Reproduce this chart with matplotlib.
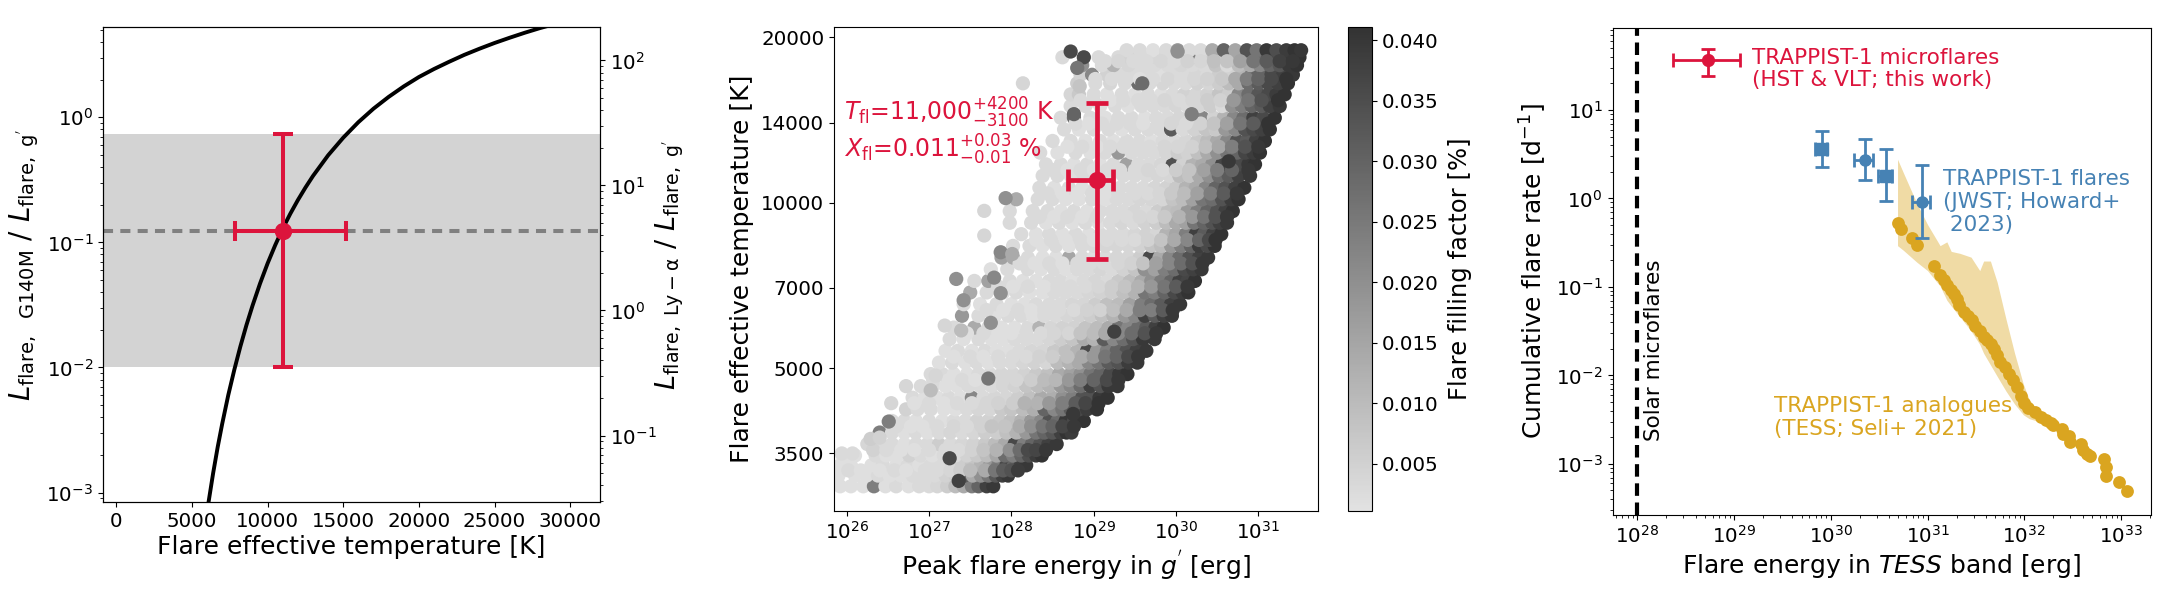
import numpy as np
import matplotlib
matplotlib.use('Agg')
import matplotlib.pyplot as plt
from matplotlib.colors import LinearSegmentedColormap
from matplotlib.ticker import NullLocator, NullFormatter

W, H = 2161, 602
RED = 'crimson'
BLUE = 'steelblue'
GOLD = 'goldenrod'

# left panel: luminosity ratio curve (log10 of the ratio)
curve_T = [6100, 6400, 6700, 7000, 7400, 7800, 8200, 8600, 9000, 9500, 10000, 10500, 11000, 11500, 12000, 12500, 13000,
           14000, 15000, 16000, 17000, 18000, 19000, 20000, 21000, 22000, 23000, 24000, 25000, 26000, 27000, 28000, 29000]
curve_logL = [-3.074, -2.845, -2.637, -2.45, -2.221, -2.018, -1.832, -1.662, -1.507, -1.329, -1.168, -1.023, -0.89, -0.771,
              -0.662, -0.562, -0.469, -0.304, -0.163, -0.039, 0.069, 0.163, 0.247, 0.322, 0.386, 0.444, 0.499, 0.548,
              0.594, 0.636, 0.676, 0.713, 0.746]
ratio_mid = 0.123
ratio_low = 0.01
ratio_high = 0.73
temp_mid = 11000
temp_low = 7860
temp_high = 15200

# middle panel: simulated flares, one row per temperature. log10 energy and filling factor in 1e-3 %
row_T = [3050, 3190, 3330, 3470, 3640, 3820, 4010, 4210, 4420, 4640, 4880, 5120, 5380, 5650, 5930, 6230, 6540,
         6870, 7210, 7570, 7950, 8350, 8770, 9200, 9660, 10150, 10650, 11200, 11750, 12340, 12960, 13600, 14280,
         15000, 15750, 16500, 17100, 17800, 18400, 18950,
         3260, 3550, 3920, 4320, 4760, 5250, 5790, 6380, 7040, 7760, 8560, 9430, 10400, 11470, 12650, 13940, 15370,
         16800, 18100]
row_logE = [
    [25.92, 26.05, 26.2, 26.33, 26.47, 26.6, 26.75, 26.88, 27.0, 27.1, 27.22, 27.32, 27.42, 27.52, 27.6, 27.7, 27.78],
    [25.9, 26.1, 26.24, 26.38, 26.52, 26.66, 26.8, 26.94, 27.07, 27.2, 27.32, 27.43, 27.53, 27.63, 27.72, 27.81, 27.89, 27.96],
    [25.92, 26.05, 26.3, 26.44, 26.6, 26.74, 26.88, 27.02, 27.15, 27.28, 27.4, 27.52, 27.63, 27.74, 27.84, 27.94, 28.03, 28.11, 28.18],
    [25.95, 26.1, 26.35, 26.48, 26.62, 26.76, 26.9, 27.04, 27.18, 27.32, 27.46, 27.58, 27.7, 27.82, 27.92, 28.02, 28.12, 28.21, 28.3, 28.37],
    [26.25, 26.4, 26.55, 26.7, 26.84, 26.98, 27.12, 27.26, 27.4, 27.54, 27.68, 27.8, 27.92, 28.04, 28.15, 28.25, 28.35, 28.45, 28.55],
    [26.4, 26.55, 26.7, 26.84, 26.98, 27.12, 27.26, 27.4, 27.54, 27.68, 27.82, 27.94, 28.06, 28.18, 28.3, 28.4, 28.5, 28.6, 28.67, 28.73],
    [26.55, 26.7, 26.84, 27.0, 27.16, 27.3, 27.44, 27.58, 27.72, 27.86, 27.99, 28.12, 28.24, 28.36, 28.46, 28.56, 28.66, 28.76, 28.88],
    [26.72, 26.86, 27.02, 27.18, 27.32, 27.46, 27.6, 27.74, 27.88, 28.0, 28.14, 28.27, 28.4, 28.52, 28.62, 28.72, 28.82, 28.92, 29.04],
    [26.8, 26.95, 27.1, 27.24, 27.38, 27.52, 27.66, 27.8, 27.94, 28.08, 28.22, 28.36, 28.5, 28.62, 28.74, 28.86, 28.96, 29.07, 29.17],
    [26.9, 27.05, 27.2, 27.34, 27.48, 27.62, 27.76, 27.9, 28.04, 28.18, 28.32, 28.46, 28.6, 28.72, 28.84, 28.96, 29.08, 29.18, 29.29],
    [27.02, 27.16, 27.3, 27.46, 27.6, 27.74, 27.88, 28.02, 28.16, 28.3, 28.44, 28.58, 28.72, 28.84, 28.96, 29.08, 29.2, 29.31, 29.41],
    [27.12, 27.28, 27.44, 27.58, 27.72, 27.86, 28.0, 28.14, 28.28, 28.42, 28.56, 28.7, 28.82, 28.94, 29.06, 29.18, 29.3, 29.42, 29.53],
    [27.2, 27.35, 27.52, 27.68, 27.82, 27.96, 28.1, 28.24, 28.38, 28.52, 28.66, 28.8, 28.92, 29.04, 29.16, 29.28, 29.4, 29.52, 29.64],
    [27.25, 27.42, 27.6, 27.76, 27.9, 28.04, 28.18, 28.32, 28.46, 28.6, 28.74, 28.88, 29.0, 29.12, 29.24, 29.36, 29.48, 29.6, 29.74],
    [27.3, 27.55, 27.72, 27.88, 28.04, 28.2, 28.34, 28.48, 28.62, 28.76, 28.9, 29.04, 29.18, 29.3, 29.42, 29.54, 29.64, 29.75, 29.85],
    [27.4, 27.6, 27.8, 27.96, 28.12, 28.26, 28.4, 28.54, 28.68, 28.82, 28.96, 29.1, 29.24, 29.38, 29.5, 29.62, 29.74, 29.85, 29.95],
    [27.42, 27.62, 27.82, 28.0, 28.16, 28.3, 28.46, 28.6, 28.74, 28.88, 29.02, 29.16, 29.3, 29.44, 29.58, 29.7, 29.82, 29.94, 30.05],
    [27.5, 27.7, 27.9, 28.06, 28.22, 28.38, 28.52, 28.66, 28.8, 28.94, 29.08, 29.22, 29.36, 29.5, 29.62, 29.74, 29.86, 29.98, 30.08, 30.15],
    [27.55, 27.72, 27.98, 28.14, 28.3, 28.46, 28.6, 28.74, 28.88, 29.02, 29.16, 29.3, 29.44, 29.58, 29.7, 29.82, 29.94, 30.04, 30.14, 30.23],
    [27.75, 27.95, 28.2, 28.36, 28.52, 28.66, 28.8, 28.94, 29.08, 29.22, 29.36, 29.5, 29.62, 29.74, 29.86, 29.98, 30.1, 30.21, 30.31],
    [27.88, 28.02, 28.2, 28.38, 28.54, 28.7, 28.86, 29.0, 29.14, 29.28, 29.42, 29.56, 29.68, 29.8, 29.92, 30.04, 30.16, 30.28, 30.39],
    [28.02, 28.22, 28.38, 28.54, 28.7, 28.86, 29.0, 29.14, 29.28, 29.42, 29.56, 29.7, 29.82, 29.94, 30.06, 30.18, 30.28, 30.38, 30.47],
    [28.12, 28.3, 28.46, 28.62, 28.78, 28.94, 29.08, 29.22, 29.36, 29.5, 29.64, 29.76, 29.88, 30.0, 30.12, 30.24, 30.34, 30.45, 30.55],
    [27.98, 28.24, 28.42, 28.58, 28.74, 28.9, 29.06, 29.2, 29.34, 29.48, 29.62, 29.76, 29.88, 30.0, 30.12, 30.22, 30.34, 30.44, 30.53, 30.62],
    [27.98, 28.26, 28.44, 28.6, 28.76, 28.92, 29.08, 29.22, 29.36, 29.5, 29.64, 29.78, 29.9, 30.02, 30.14, 30.26, 30.38, 30.5, 30.6, 30.69],
    [28.06, 28.32, 28.5, 28.66, 28.82, 28.98, 29.14, 29.28, 29.42, 29.56, 29.7, 29.84, 29.96, 30.08, 30.2, 30.32, 30.44, 30.56, 30.67, 30.76],
    [28.34, 28.52, 28.7, 28.86, 29.02, 29.18, 29.32, 29.46, 29.6, 29.74, 29.88, 30.0, 30.12, 30.24, 30.36, 30.48, 30.6, 30.72, 30.83],
    [28.38, 28.56, 28.72, 28.88, 29.04, 29.2, 29.36, 29.5, 29.64, 29.78, 29.92, 30.04, 30.16, 30.28, 30.4, 30.52, 30.64, 30.76, 30.9],
    [28.42, 28.6, 28.76, 28.92, 29.08, 29.24, 29.4, 29.54, 29.68, 29.82, 29.96, 30.08, 30.2, 30.32, 30.44, 30.56, 30.68, 30.78, 30.88, 30.96],
    [28.35, 28.56, 28.78, 28.96, 29.14, 29.3, 29.46, 29.6, 29.74, 29.88, 30.02, 30.14, 30.26, 30.38, 30.5, 30.62, 30.74, 30.84, 30.94, 31.02],
    [28.5, 28.72, 28.9, 29.08, 29.24, 29.4, 29.56, 29.7, 29.84, 29.98, 30.12, 30.26, 30.38, 30.5, 30.62, 30.74, 30.86, 30.97, 31.08],
    [28.64, 28.82, 29.0, 29.18, 29.34, 29.5, 29.66, 29.8, 29.94, 30.08, 30.22, 30.36, 30.48, 30.6, 30.72, 30.84, 30.94, 31.04, 31.14],
    [28.6, 28.76, 28.96, 29.14, 29.3, 29.46, 29.62, 29.76, 29.9, 30.04, 30.18, 30.32, 30.46, 30.58, 30.7, 30.82, 30.94, 31.06, 31.2],
    [28.72, 28.9, 29.08, 29.26, 29.42, 29.58, 29.72, 29.86, 30.0, 30.14, 30.28, 30.42, 30.56, 30.68, 30.8, 30.92, 31.04, 31.14, 31.26],
    [28.72, 28.82, 29.0, 29.16, 29.34, 29.5, 29.66, 29.82, 29.96, 30.1, 30.24, 30.38, 30.52, 30.64, 30.76, 30.88, 31.0, 31.12, 31.22, 31.32],
    [28.8, 29.02, 29.2, 29.38, 29.54, 29.68, 29.84, 29.98, 30.12, 30.26, 30.4, 30.52, 30.64, 30.76, 30.88, 31.0, 31.12, 31.24, 31.36],
    [28.84, 28.98, 29.16, 29.32, 29.48, 29.64, 29.8, 29.96, 30.1, 30.24, 30.38, 30.52, 30.66, 30.8, 30.92, 31.04, 31.16, 31.3, 31.42],
    [28.86, 29.1, 29.24, 29.42, 29.58, 29.74, 29.9, 30.06, 30.2, 30.34, 30.48, 30.62, 30.76, 30.9, 31.02, 31.14, 31.26, 31.37, 31.47],
    [28.62, 28.88, 29.06, 29.3, 29.44, 29.6, 29.76, 29.9, 30.04, 30.18, 30.32, 30.46, 30.6, 30.74, 30.88, 31.0, 31.12, 31.24, 31.36, 31.5],
    [29.4, 29.56, 29.72, 29.88, 30.02, 30.16, 30.3, 30.44, 30.58, 30.72, 30.86, 30.98, 31.1, 31.22, 31.34, 31.44, 31.52],
    # in-between rows
    [26.02, 26.17, 26.4, 26.58, 26.72, 26.95, 27.1, 27.26, 27.38, 27.5, 27.68, 27.8, 27.9, 28.0, 28.08],
    [26.32, 26.48, 26.66, 26.82, 27.0, 27.2, 27.36, 27.52, 27.66, 27.82, 27.98, 28.1, 28.2, 28.3, 28.42],
    [26.6, 26.78, 26.92, 27.1, 27.3, 27.46, 27.64, 27.76, 27.92, 28.1, 28.24, 28.38, 28.5, 28.62, 28.76],
    [26.82, 27.0, 27.18, 27.34, 27.52, 27.7, 27.84, 28.02, 28.16, 28.32, 28.46, 28.62, 28.78, 28.9, 29.06],
    [27.05, 27.24, 27.4, 27.56, 27.72, 27.9, 28.06, 28.24, 28.4, 28.54, 28.7, 28.84, 29.0, 29.16, 29.3],
    [27.3, 27.5, 27.66, 27.84, 28.02, 28.18, 28.34, 28.5, 28.68, 28.86, 29.0, 29.14, 29.28, 29.42, 29.54],
    [27.46, 27.66, 27.84, 28.0, 28.18, 28.36, 28.52, 28.7, 28.84, 29.0, 29.14, 29.3, 29.46, 29.62, 29.76],
    [27.7, 27.9, 28.08, 28.24, 28.4, 28.58, 28.76, 28.92, 29.08, 29.24, 29.4, 29.56, 29.7, 29.84, 29.96],
    [27.84, 28.02, 28.2, 28.4, 28.56, 28.72, 28.9, 29.06, 29.22, 29.38, 29.54, 29.7, 29.86, 30.0, 30.14],
    [28.1, 28.28, 28.46, 28.62, 28.8, 28.96, 29.12, 29.3, 29.46, 29.6, 29.76, 29.92, 30.06, 30.2, 30.32],
    [28.3, 28.48, 28.66, 28.84, 29.0, 29.16, 29.34, 29.5, 29.66, 29.82, 29.98, 30.14, 30.28, 30.4, 30.48],
    [28.34, 28.52, 28.68, 28.86, 29.04, 29.24, 29.4, 29.56, 29.72, 29.86, 30.04, 30.2, 30.34, 30.48, 30.62],
    [28.44, 28.62, 28.8, 28.98, 29.14, 29.3, 29.5, 29.66, 29.8, 29.94, 30.1, 30.26, 30.42, 30.58, 30.74],
    [28.5, 28.68, 28.84, 29.0, 29.16, 29.32, 29.5, 29.66, 29.84, 30.0, 30.16, 30.34, 30.5, 30.68, 30.88],
    [28.68, 28.86, 29.04, 29.2, 29.36, 29.52, 29.68, 29.86, 30.02, 30.2, 30.36, 30.52, 30.68, 30.84, 31.0],
    [28.78, 28.94, 29.1, 29.28, 29.44, 29.6, 29.78, 29.94, 30.12, 30.3, 30.46, 30.62, 30.78, 30.94, 31.12],
    [28.84, 29.0, 29.2, 29.36, 29.54, 29.7, 29.86, 30.04, 30.2, 30.38, 30.54, 30.7, 30.88, 31.04, 31.24],
    [29.02, 29.22, 29.4, 29.56, 29.72, 29.9, 30.06, 30.22, 30.38, 30.56, 30.72, 30.86, 31.0, 31.16, 31.34],
    [29.14, 29.3, 29.48, 29.64, 29.82, 29.98, 30.14, 30.3, 30.46, 30.62, 30.78, 30.94, 31.1, 31.26, 31.42],
]
row_fill = [
    [2, 2, 2, 24, 2, 3, 2, 3, 3, 4, 6, 10, 14, 24, 30, 38, 40],
    [2, 2, 2, 3, 2, 2, 3, 3, 3, 5, 6, 32, 14, 20, 26, 33, 38, 40],
    [2, 2, 2, 3, 2, 3, 2, 3, 3, 4, 6, 8, 12, 18, 24, 36, 30, 38, 40],
    [2, 2, 3, 2, 2, 5, 3, 2, 3, 3, 5, 7, 10, 15, 28, 24, 30, 35, 39, 41],
    [4, 3, 3, 2, 3, 3, 6, 3, 4, 5, 7, 10, 14, 36, 24, 30, 34, 38, 40],
    [24, 3, 2, 3, 2, 3, 4, 3, 4, 6, 6, 9, 12, 18, 26, 30, 33, 38, 41, 39],
    [3, 3, 2, 3, 2, 3, 3, 5, 5, 7, 9, 12, 18, 22, 34, 28, 40, 36, 41],
    [5, 3, 3, 2, 2, 3, 4, 4, 7, 8, 10, 13, 30, 22, 26, 32, 36, 39, 41],
    [3, 2, 2, 3, 2, 22, 3, 4, 4, 6, 9, 14, 13, 20, 24, 34, 34, 40, 41],
    [3, 3, 2, 2, 3, 3, 3, 4, 5, 8, 10, 12, 18, 22, 28, 38, 34, 40, 40],
    [3, 3, 2, 2, 3, 3, 4, 4, 5, 7, 9, 14, 16, 20, 26, 30, 36, 40, 41],
    [2, 3, 2, 3, 2, 3, 3, 4, 5, 4, 10, 12, 14, 22, 26, 32, 34, 39, 40],
    [2, 3, 2, 3, 2, 2, 3, 4, 4, 7, 9, 12, 36, 18, 24, 30, 34, 38, 40],
    [3, 2, 3, 2, 2, 3, 3, 3, 4, 6, 8, 14, 12, 32, 22, 28, 34, 40, 40],
    [3, 14, 3, 2, 2, 3, 12, 4, 5, 5, 8, 10, 14, 26, 22, 28, 32, 38, 41],
    [18, 3, 2, 3, 3, 2, 3, 3, 4, 5, 6, 9, 12, 18, 22, 38, 32, 38, 40],
    [3, 2, 3, 2, 2, 3, 3, 3, 4, 4, 6, 9, 10, 16, 24, 28, 32, 38, 40],
    [14, 3, 2, 3, 2, 2, 3, 3, 3, 4, 5, 6, 9, 12, 26, 24, 30, 36, 39, 41],
    [3, 16, 3, 2, 2, 3, 3, 2, 3, 4, 3, 7, 10, 14, 20, 25, 30, 38, 37, 41],
    [2, 3, 3, 2, 3, 2, 3, 3, 4, 3, 5, 8, 20, 16, 24, 28, 36, 38, 40],
    [16, 14, 3, 2, 2, 15, 3, 2, 3, 4, 4, 6, 36, 14, 22, 28, 34, 38, 40],
    [3, 3, 2, 3, 2, 3, 3, 4, 4, 4, 5, 8, 10, 18, 24, 30, 39, 36, 41],
    [3, 2, 3, 2, 3, 2, 3, 3, 3, 4, 5, 4, 12, 15, 24, 38, 32, 38, 41],
    [3, 3, 2, 3, 2, 3, 2, 3, 4, 3, 5, 6, 10, 14, 16, 26, 30, 34, 38, 40],
    [3, 3, 3, 2, 3, 2, 3, 3, 3, 4, 3, 6, 9, 10, 18, 24, 30, 34, 38, 41],
    [14, 3, 3, 2, 2, 3, 2, 3, 3, 4, 4, 4, 8, 10, 16, 26, 28, 34, 39, 41],
    [3, 2, 3, 2, 3, 2, 3, 3, 3, 4, 5, 7, 12, 14, 22, 30, 34, 38, 41],
    [3, 3, 2, 3, 3, 2, 3, 3, 3, 4, 4, 10, 8, 14, 20, 28, 32, 38, 40],
    [3, 3, 2, 3, 2, 3, 16, 3, 3, 4, 34, 5, 12, 14, 20, 37, 30, 36, 40, 41],
    [3, 2, 3, 2, 3, 18, 3, 3, 3, 4, 6, 5, 9, 14, 20, 26, 30, 37, 39, 41],
    [3, 3, 2, 3, 2, 3, 3, 2, 3, 3, 4, 7, 10, 14, 22, 34, 32, 38, 41],
    [3, 2, 3, 3, 2, 3, 3, 3, 32, 3, 5, 8, 7, 18, 22, 34, 36, 38, 41],
    [3, 28, 3, 2, 3, 3, 2, 3, 3, 4, 3, 22, 5, 12, 22, 28, 38, 36, 41],
    [3, 3, 2, 3, 2, 3, 3, 3, 4, 3, 4, 6, 3, 20, 24, 30, 32, 38, 40],
    [4, 7, 3, 2, 3, 2, 3, 2, 3, 5, 4, 5, 8, 6, 22, 28, 33, 36, 39, 41],
    [6, 3, 4, 3, 28, 3, 4, 3, 3, 5, 4, 6, 10, 14, 28, 32, 36, 38, 41],
    [5, 22, 5, 3, 3, 3, 2, 3, 3, 4, 3, 6, 5, 12, 30, 30, 36, 38, 40],
    [20, 3, 12, 4, 3, 3, 3, 4, 3, 3, 8, 3, 10, 14, 22, 30, 33, 40, 41],
    [3, 36, 3, 3, 5, 3, 4, 3, 4, 24, 4, 8, 6, 14, 20, 28, 34, 36, 40, 41],
    [3, 3, 2, 3, 18, 3, 3, 14, 30, 15, 34, 26, 40, 35, 39, 41, 40],
    # in-between rows
    [3, 2, 2, 3, 2, 3, 3, 4, 6, 10, 14, 26, 32, 34, 39],
    [5, 3, 2, 2, 3, 3, 3, 5, 8, 12, 20, 28, 36, 37, 40],
    [3, 2, 2, 3, 4, 3, 5, 8, 8, 14, 20, 26, 30, 37, 40],
    [2, 3, 2, 3, 3, 4, 5, 6, 12, 12, 18, 24, 32, 37, 41],
    [3, 2, 3, 2, 3, 4, 4, 6, 10, 11, 18, 24, 30, 36, 40],
    [2, 3, 2, 3, 3, 3, 5, 6, 9, 14, 18, 26, 30, 36, 40],
    [2, 3, 2, 2, 3, 3, 4, 4, 8, 10, 14, 22, 28, 34, 40],
    [3, 2, 3, 2, 3, 3, 3, 5, 5, 9, 14, 24, 24, 32, 40],
    [3, 2, 3, 2, 3, 3, 3, 4, 6, 8, 12, 18, 26, 32, 40],
    [3, 2, 3, 2, 3, 3, 3, 4, 5, 8, 16, 22, 28, 34, 40],
    [2, 3, 2, 3, 2, 3, 3, 3, 5, 8, 14, 22, 30, 36, 41],
    [3, 2, 3, 2, 3, 3, 3, 4, 4, 7, 12, 18, 26, 34, 40],
    [3, 2, 2, 3, 2, 3, 3, 3, 4, 7, 10, 16, 24, 32, 40],
    [3, 2, 3, 2, 3, 3, 3, 4, 3, 6, 8, 16, 24, 30, 40],
    [2, 3, 2, 3, 3, 3, 3, 4, 4, 5, 9, 15, 24, 34, 40],
    [3, 2, 3, 3, 3, 2, 3, 4, 3, 5, 8, 16, 26, 32, 41],
    [3, 3, 2, 3, 3, 3, 4, 3, 4, 6, 5, 18, 26, 34, 41],
    [3, 3, 3, 2, 3, 4, 3, 4, 5, 7, 14, 24, 30, 36, 41],
    [3, 4, 3, 3, 4, 3, 5, 4, 9, 8, 16, 26, 32, 38, 40],
]
# single flares that stand out from the rows
stray_logE = [28.72, 28.80, 28.83, 28.14, 28.76, 27.93, 27.67, 27.67, 27.87, 28.01, 27.33, 27.79, 27.87, 27.42, 27.19,
              27.39, 27.75, 26.72, 27.08, 26.54, 26.51, 27.02, 25.94, 26.07, 26.29, 26.40, 27.25, 27.36, 27.72,
              30.64, 30.19, 29.59, 30.02, 28.75, 29.25]
stray_T = [18850, 17600, 16300, 16500, 14500, 10200, 9670, 8720, 8130, 8070, 7270, 7310, 6850, 6650, 5980,
           5860, 6050, 4640, 4850, 4320, 4000, 4560, 3500, 3500, 3720, 3740, 3430, 3120, 4790,
           11900, 14500, 16500, 18850, 4130, 5830]
stray_fill = [36, 26, 8, 4, 30, 20, 4, 4, 22, 14, 20, 22, 20, 20, 4,
              10, 20, 4, 4, 4, 24, 10, 3, 3, 6, 5, 36, 38, 26,
              40, 24, 28, 20, 40, 38]

peak_logE = 29.04
peak_logE_err = [28.69, 29.235]
peak_T = 11020
peak_T_err = [7900, 15200]

# right panel, everything in log10
micro_logE, micro_logE_err = 28.736, [28.373, 29.064]
micro_logR, micro_logR_err = 1.563, [1.381, 1.689]
jwst_logE = [29.908, 30.352, 30.567, 30.944]
jwst_logE_low = [29.84, 30.244, 30.491, 30.837]
jwst_logE_high = [29.966, 30.437, 30.63, 31.03]
jwst_logR = [0.556, 0.43, 0.256, -0.043]
jwst_logR_low = [0.36, 0.204, -0.026, -0.447]
jwst_logR_high = [0.76, 0.673, 0.56, 0.378]
jwst_marker = ['s', 'o', 's', 'o']
seli_logE = [30.69, 30.73, 30.84, 30.89, 31.07, 31.13, 31.17, 31.20, 31.24, 31.27, 31.30, 31.33, 31.38, 31.42, 31.46,
             31.49, 31.54, 31.58, 31.62, 31.66, 31.69, 31.72, 31.75, 31.80, 31.84, 31.88, 31.93, 31.97, 32.00, 32.04, 32.11,
             32.17, 32.22, 32.28, 32.30, 32.39, 32.40, 32.46, 32.47, 32.59, 32.61, 32.65, 32.68, 32.82, 32.84, 32.85,
             32.98, 33.06]
seli_logR = [-0.274, -0.343, -0.447, -0.526, -0.769, -0.864, -0.925, -0.977, -1.034, -1.077, -1.133, -1.207, -1.281, -1.33, -1.373,
             -1.438, -1.498, -1.564, -1.60, -1.642, -1.698, -1.772, -1.846, -1.902, -1.989, -2.054, -2.133, -2.228, -2.315, -2.367, -2.411,
             -2.467, -2.50, -2.533, -2.563, -2.611, -2.663, -2.684, -2.75, -2.78, -2.845, -2.893, -2.906, -2.945, -3.032, -3.141,
             -3.21, -3.305]
band_logE = [30.69, 30.75, 30.89, 31.00, 31.13, 31.20, 31.245, 31.335, 31.45, 31.54, 31.58, 31.65, 31.72, 31.81, 31.90,
             31.99, 32.05, 32.14, 32.255]
band_high = [0.443, 0.291, -0.056, -0.295, -0.534, -0.491, -0.599, -0.621, -0.664, -0.816, -0.708, -0.708, -0.947, -1.359, -1.75,
             -2.098, -2.271, -2.402, -2.554]
band_low = [-0.534, -0.586, -0.721, -0.816, -0.99, -1.151, -1.216, -1.338, -1.498, -1.65, -1.75, -1.881, -2.011, -2.176, -2.324,
            -2.445, -2.489, -2.519, -2.575]


def place(left, right, top, bottom):
    return fig.add_axes([left / W, 1 - bottom / H, (right - left) / W, (bottom - top) / H])


def asym(mid, lo, hi):
    return [[mid - lo], [hi - mid]]


plt.rcParams['font.size'] = 14.3
plt.rcParams['mathtext.default'] = 'it'
fig = plt.figure(figsize=(W / 100, H / 100), dpi=100)

# left panel
ax1 = place(103, 600, 27, 502)
ax1.axhspan(ratio_low, ratio_high, color='lightgrey', lw=0)
ax1.axhline(ratio_mid, color='grey', lw=2.9, dashes=(2.5, 1.8))
ax1.plot(curve_T, 10.0 ** np.array(curve_logL), color='black', lw=2.8)
ax1.errorbar(temp_mid, ratio_mid, xerr=asym(temp_mid, temp_low, temp_high),
             yerr=asym(ratio_mid, ratio_low, ratio_high), fmt='o', color=RED, ms=11.5,
             elinewidth=2.9, capsize=7.2, capthick=2.9)
ax1.set_yscale('log')
ax1.set_xlim(-880, 31970)
ax1.set_ylim(8.4e-4, 5.27)
ax1.set_xticks([0, 5000, 10000, 15000, 20000, 25000, 30000])
ax1.set_xlabel('Flare effective temperature [K]', fontsize=18, labelpad=3)
ax1.set_ylabel(r"$L_{\rm flare,\ \ G140M}\ /\ L_{\rm flare,\ g^{'}}$", fontsize=20, labelpad=4)
ax1r = ax1.twinx()
ax1r.set_yscale('log')
ax1r.set_ylim(0.0294, 185)
ax1r.set_ylabel(r"$L_{\rm flare,\ Ly-\mathrm{\alpha}}\ /\ L_{\rm flare,\ g^{'}}$", fontsize=19.5, labelpad=-2)

# middle panel
grey_map = LinearSegmentedColormap.from_list('flare_grey', ['#e2e2e2', '#333333'])
all_logE, all_T, all_fill = [], [], []
for t, es, xs in zip(row_T, row_logE, row_fill):
    n = min(len(es), len(xs))
    all_logE += es[:n]
    all_T += [t] * n
    all_fill += xs[:n]
all_logE += stray_logE
all_T += stray_T
all_fill += stray_fill

ax2 = place(834, 1318, 27, 511)
sc = ax2.scatter(10.0 ** np.array(all_logE), all_T, c=np.array(all_fill) / 1000, s=105, lw=0,
                 cmap=grey_map, vmin=0.0011, vmax=0.0411)
ax2.errorbar(10 ** peak_logE, peak_T, xerr=asym(10 ** peak_logE, 10 ** peak_logE_err[0], 10 ** peak_logE_err[1]),
             yerr=asym(peak_T, peak_T_err[0], peak_T_err[1]), fmt='o', color=RED, ms=11.5,
             elinewidth=3.4, capsize=7.8, capthick=3.4)
ax2.set_xscale('log')
ax2.set_yscale('log')
ax2.set_xlim(10 ** 25.845, 10 ** 31.725)
ax2.set_ylim(2750, 20890)
ax2.set_xticks([1e26, 1e27, 1e28, 1e29, 1e30, 1e31])
ax2.xaxis.set_minor_locator(NullLocator())
ax2.set_yticks([3500, 5000, 7000, 10000, 14000, 20000])
ax2.set_yticklabels(['3500', '5000', '7000', '10000', '14000', '20000'])
ax2.yaxis.set_minor_locator(NullLocator())
ax2.yaxis.set_minor_formatter(NullFormatter())
ax2.set_xlabel(r"Peak flare energy in $g^{'}$ [erg]", fontsize=18, labelpad=4)
ax2.set_ylabel('Flare effective temperature [K]', fontsize=18, labelpad=5)
ax2.text(10 ** 25.97, 14550, r'$T_{\rm fl}$=11,000$^{+4200}_{-3100}$ K', color=RED, fontsize=17, va='center')
ax2.text(10 ** 25.97, 12500, r'$X_{\rm fl}$=0.011$^{+0.03}_{-0.01}$ %', color=RED, fontsize=17, va='center')

cax = place(1348, 1372, 27, 511)
cbar = fig.colorbar(sc, cax=cax)
cbar.set_ticks([0.005, 0.010, 0.015, 0.020, 0.025, 0.030, 0.035, 0.040])
cbar.set_ticklabels(['0.005', '0.010', '0.015', '0.020', '0.025', '0.030', '0.035', '0.040'])
cbar.set_label('Flare filling factor [%]', fontsize=17.5, labelpad=7)

# right panel
ax3 = place(1612.5, 2151, 27.7, 515)
ax3.axvline(1e28, color='black', lw=3, dashes=(3, 1.6))
ax3.fill_between(10.0 ** np.array(band_logE), 10.0 ** np.array(band_low), 10.0 ** np.array(band_high),
                 color=GOLD, alpha=0.4, lw=0)
ax3.scatter(10.0 ** np.array(seli_logE), 10.0 ** np.array(seli_logR), s=85, color=GOLD, lw=0)
for i in range(len(jwst_logE)):
    ex, ey = 10 ** jwst_logE[i], 10 ** jwst_logR[i]
    ax3.errorbar(ex, ey, xerr=asym(ex, 10 ** jwst_logE_low[i], 10 ** jwst_logE_high[i]),
                 yerr=asym(ey, 10 ** jwst_logR_low[i], 10 ** jwst_logR_high[i]), fmt=jwst_marker[i],
                 color=BLUE, ms=8, elinewidth=2, capsize=5, capthick=2)
ex, ey = 10 ** micro_logE, 10 ** micro_logR
ax3.errorbar(ex, ey, xerr=asym(ex, 10 ** micro_logE_err[0], 10 ** micro_logE_err[1]),
             yerr=asym(ey, 10 ** micro_logR_err[0], 10 ** micro_logR_err[1]), fmt='o', color=RED, ms=8.5,
             elinewidth=2, capsize=5, capthick=2)
ax3.set_xscale('log')
ax3.set_yscale('log')
ax3.set_xlim(10 ** 27.744, 10 ** 33.31)
ax3.set_ylim(2.64e-4, 85)
ax3.set_xticks([1e28, 1e29, 1e30, 1e31, 1e32, 1e33])
ax3.set_xlabel(r'Flare energy in $TESS$ band [erg]', fontsize=18, labelpad=4)
ax3.set_ylabel(r'Cumulative flare rate [d$^{-1}$]', fontsize=18, labelpad=5)
ax3.text(10 ** 28.07, 10 ** -2.74, 'Solar microflares', rotation=90, fontsize=15.5, va='bottom', ha='left')
ax3.text(10 ** 29.19, 10 ** 1.464, 'TRAPPIST-1 microflares\n(HST & VLT; this work)', color=RED, fontsize=15.5, va='center', linespacing=1.17)
ax3.text(10 ** 31.155, 10 ** -0.043, 'TRAPPIST-1 flares\n(JWST; Howard+\n 2023)', color=BLUE, fontsize=15.5, va='center', linespacing=1.17)
ax3.text(10 ** 29.414, 10 ** -2.48, 'TRAPPIST-1 analogues\n(TESS; Seli+ 2021)', color=GOLD, fontsize=15.5, va='center', linespacing=1.17)

fig.savefig('out.png', dpi=100)
